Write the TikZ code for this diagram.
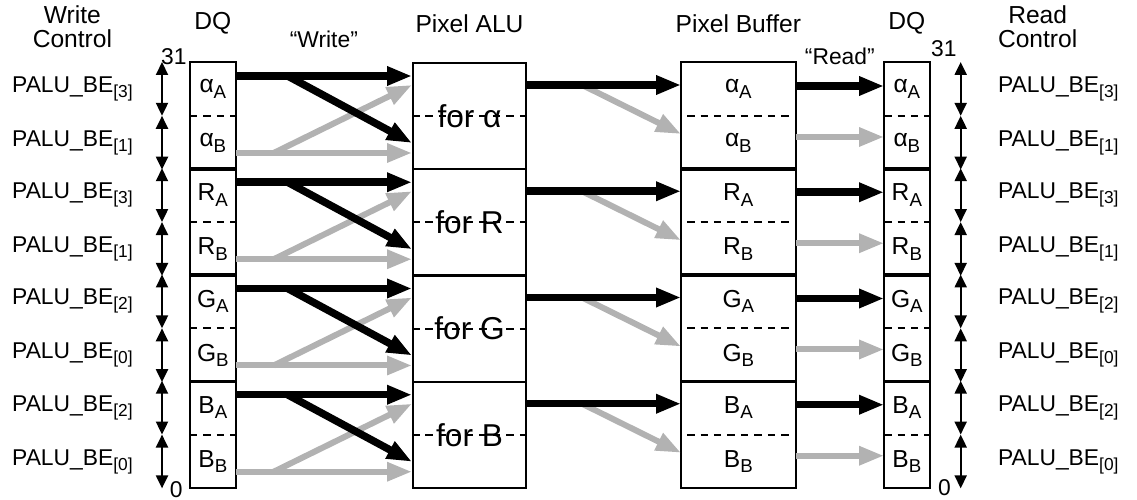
\documentclass[tikz,border=0pt]{standalone}
\usepackage{fontspec}
\usepackage{graphicx}
\setmainfont{Liberation Sans}
\usetikzlibrary{positioning,arrows.meta}
\definecolor{busgray}{RGB}{178,178,178}
\newcommand\sbs[1]{\raisebox{-0.22em}{\scalebox{0.76}{#1}}}
\tikzset{
  cell/.style={minimum width=0.9cm, minimum height=1.0625cm, inner sep=0pt, font=\fontsize{14}{14}\selectfont},
  widecell/.style={cell, minimum width=2.28cm},
  lbl/.style={inner sep=0pt, font=\fontsize{13}{13}\selectfont},
  hdr/.style={inner sep=0pt, align=center, font=\fontsize{14}{14}\selectfont},
  frame/.style={line width=1.2pt},
  divider/.style={line width=1.2pt, dash pattern=on 0.15cm off 0.12cm},
  bus/.style={line width=0.15cm, -{Triangle[length=0.5cm,width=0.36cm]}},
  busb/.style={bus, busgray, line width=0.12cm},
  ctl/.style={line width=1.2pt, {Triangle[length=0.26cm,width=0.24cm]}-{Triangle[length=0.26cm,width=0.24cm]}},
}

\begin{document}
\begin{tikzpicture}[x=0.02cm, y=-0.02cm, font=\fontsize{13}{13}\selectfont]
  \useasboundingbox (0,0) rectangle (1137,500);
  \foreach \ch/\nm/\ia/\ib [count=\g from 0] in {α/al/3/1, R/r/3/1, G/g/2/0, B/b/2/0}{
    \pgfmathsetmacro\ytop{62+106.25*\g}
    % write side DQ
    \node[cell, anchor=north west] (ldqA\nm) at (190,\ytop) {\ch\sbs{A}};
    \node[cell, below=0pt of ldqA\nm] (ldqB\nm) {\ch\sbs{B}};
    \draw[frame] (ldqA\nm.north west) rectangle (ldqB\nm.south east);
    \draw[divider] (ldqA\nm.south west) -- (ldqA\nm.south east);
    \node[lbl, left=1.14cm of ldqA\nm] (wcA\nm) {PALU\_BE\sbs{[\ia]}};
    \node[lbl, left=1.14cm of ldqB\nm] (wcB\nm) {PALU\_BE\sbs{[\ib]}};
    \draw[ctl] ([xshift=-0.56cm]ldqA\nm.north west) -- ([xshift=-0.56cm]ldqA\nm.south west);
    \draw[ctl] ([xshift=-0.56cm]ldqB\nm.north west) -- ([xshift=-0.56cm]ldqB\nm.south west);
    % pixel ALU
    \node[widecell, minimum width=2.26cm, minimum height=2.125cm, draw, frame, anchor=north west,
      font=\fontsize{18}{18}\selectfont] (alu\nm) at (412,\ytop) {for \ch};
    \draw[divider] (alu\nm.west) -- (alu\nm.east);
    % pixel buffer
    \node[widecell, anchor=north west] (bufA\nm) at (681,\ytop) {\ch\sbs{A}};
    \node[widecell, below=0pt of bufA\nm] (bufB\nm) {\ch\sbs{B}};
    \draw[frame] (bufA\nm.north west) rectangle (bufB\nm.south east);
    \draw[divider] ([xshift=0.12cm]bufA\nm.south west) -- ([xshift=-0.12cm]bufA\nm.south east);
    % read side DQ
    \node[cell, anchor=north west] (rdqA\nm) at (884,\ytop) {\ch\sbs{A}};
    \node[cell, below=0pt of rdqA\nm] (rdqB\nm) {\ch\sbs{B}};
    \draw[frame] (rdqA\nm.north west) rectangle (rdqB\nm.south east);
    \draw[divider] (rdqA\nm.south west) -- (rdqA\nm.south east);
    \node[lbl, right=1.36cm of rdqA\nm] (rcA\nm) {PALU\_BE\sbs{[\ia]}};
    \node[lbl, right=1.36cm of rdqB\nm] (rcB\nm) {PALU\_BE\sbs{[\ib]}};
    \draw[ctl] ([xshift=0.62cm]rdqA\nm.north east) -- ([xshift=0.62cm]rdqA\nm.south east);
    \draw[ctl] ([xshift=0.62cm]rdqB\nm.north east) -- ([xshift=0.62cm]rdqB\nm.south east);
    % write
    \draw[busb] ([yshift=-1.82cm]ldqA\nm.north east) -- ([yshift=-1.82cm]alu\nm.north west);
    \draw[busb] ([xshift=0.76cm,yshift=-1.82cm]ldqA\nm.north east) -- ([yshift=-0.46cm]alu\nm.north west);
    \draw[bus] ([yshift=-0.28cm]ldqA\nm.north east) -- ([yshift=-0.28cm]alu\nm.north west);
    \draw[bus] ([xshift=1.04cm,yshift=-0.28cm]ldqA\nm.north east) -- ([yshift=-1.62cm]alu\nm.north west);
    % ALU to buffer
    \draw[busb] ([xshift=1.1cm,yshift=-0.46cm]alu\nm.north east) -- ([yshift=-1.44cm]bufA\nm.north west);
    \draw[bus] ([yshift=-0.46cm]alu\nm.north east) -- ([yshift=-0.46cm]bufA\nm.north west);
    % read
    \draw[bus] ([yshift=-0.48cm]bufA\nm.north east) -- ([yshift=-0.48cm]rdqA\nm.north west);
    \draw[busb] ([yshift=-1.5cm]bufA\nm.north east) -- ([yshift=-1.5cm]rdqA\nm.north west);
  }
  \node[hdr, above=0.56cm of wcAal] (wctl) {Write\\Control};
  \node[hdr, above=0.55cm of ldqAal] (ldq) {DQ};
  \node[hdr, above=0.58cm of alual] (palu) {Pixel ALU};
  \node[hdr, above=0.58cm of bufAal] (pbuf) {Pixel Buffer};
  \node[hdr, above=0.55cm of rdqAal] (rdq) {DQ};
  \node[hdr, anchor=south west] (rctl) at ([yshift=0.56cm]rcAal.north west) {Read\\Control};
  \node[lbl, anchor=base east] (ltop) at ([xshift=-0.06cm,yshift=-0.06cm]ldqAal.north west) {31};
  \node[lbl, anchor=north east] (lbot) at ([xshift=-0.14cm,yshift=0.14cm]ldqBb.south west) {0};
  \node[lbl, anchor=base west] (rtop) at ([xshift=0.02cm,yshift=0.1cm]rdqAal.north east) {31};
  \node[lbl, anchor=north west] (rbot) at ([xshift=0.16cm,yshift=0.18cm]rdqBb.south east) {0};
  \path (ldqAal.north east) -- (alual.north west) node[midway, lbl, above=0.28cm] (wr) {“Write”};
  \path (bufAal.north east) -- (rdqAal.north west) node[midway, lbl, anchor=base, yshift=-0.06cm] (rd) {“Read”};
\end{tikzpicture}
\end{document}
